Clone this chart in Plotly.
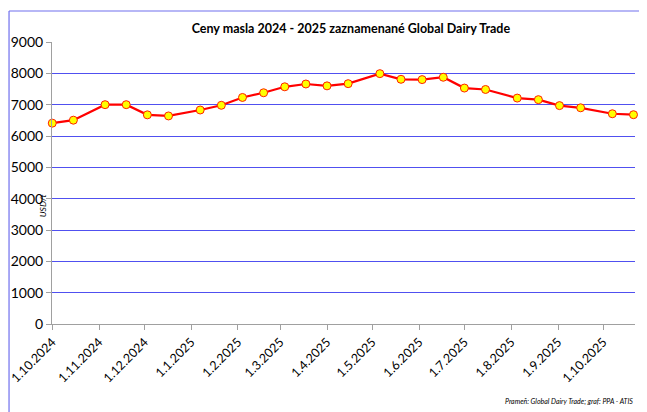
import plotly.graph_objects as go

dates = ["2024-10-01", "2024-10-15", "2024-11-05", "2024-11-19", "2024-12-03", "2024-12-17",
         "2025-01-07", "2025-01-21", "2025-02-04", "2025-02-18", "2025-03-04", "2025-03-18",
         "2025-04-01", "2025-04-15", "2025-05-06", "2025-05-20", "2025-06-03", "2025-06-17",
         "2025-07-01", "2025-07-15", "2025-08-05", "2025-08-19", "2025-09-02", "2025-09-16",
         "2025-10-07", "2025-10-21"]
prices = [6410, 6505, 7000, 7000, 6675, 6640, 6830, 6980, 7230, 7380, 7570, 7660, 7600,
          7670, 7990, 7810, 7800, 7875, 7530, 7485, 7210, 7160, 6970, 6900, 6710, 6680]

tick_vals = ["2024-10-01", "2024-11-01", "2024-12-01", "2025-01-01", "2025-02-01", "2025-03-01",
             "2025-04-01", "2025-05-01", "2025-06-01", "2025-07-01", "2025-08-01", "2025-09-01",
             "2025-10-01"]
tick_text = ["1.10.2024", "1.11.2024", "1.12.2024", "1.1.2025", "1.2.2025", "1.3.2025",
             "1.4.2025", "1.5.2025", "1.6.2025", "1.7.2025", "1.8.2025", "1.9.2025", "1.10.2025"]

title = "Ceny masla 2024 - 2025 zaznamenané Global Dairy Trade"
y_title = "USD/t"
source = "Prameň: Global Dairy Trade; graf: PPA - ATIS"

FONT = "Lato, sans-serif"

fig = go.Figure()
fig.add_trace(go.Scatter(
    x=dates, y=prices, mode="lines+markers",
    line=dict(color="#ff0000", width=2.2),
    marker=dict(symbol="circle", size=8, color="#ffff00", line=dict(color="#ff2000", width=1)),
    showlegend=False, hoverinfo="x+y", cliponaxis=False,
))

fig.update_layout(
    width=647, height=412,
    margin=dict(l=44, r=20, t=34, b=96, autoexpand=False),
    paper_bgcolor="white", plot_bgcolor="white",
    font=dict(family=FONT, size=13, color="#000000"),
    title=dict(text="<b>" + title + "</b>", x=0.53, xanchor="center", y=0.95, yanchor="middle",
               font=dict(family=FONT, size=12.5, color="#000000")),
    xaxis=dict(
        type="date", range=["2024-09-30 20:00", "2025-10-22"], automargin=False,
        tickvals=tick_vals, ticktext=tick_text, tickangle=-45, ticklabeloverflow="allow",
        ticks="outside", ticklen=5, tickcolor="#a0a0a0", tickwidth=1,
        showline=True, linecolor="#a0a0a0", linewidth=1,
        showgrid=False, zeroline=False,
        tickfont=dict(family=FONT, size=12.5, color="#000000"),
    ),
    yaxis=dict(
        range=[0, 9000], tickvals=list(range(0, 9001, 1000)), automargin=False,
        ticks="outside", ticklen=5, tickcolor="#a0a0a0",
        showline=True, linecolor="#a0a0a0", linewidth=1,
        showgrid=True, gridcolor="#5050f0", gridwidth=1,
        zeroline=False,
        tickfont=dict(family=FONT, size=14, color="#000000"),
    ),
    shapes=[
        dict(type="line", xref="paper", yref="paper", x0=-0.0737, x1=1.1, y0=1.11, y1=1.11,
             line=dict(color="#7070ee", width=1.2)),
        dict(type="line", xref="paper", yref="paper", x0=-0.0737, x1=-0.0737, y0=1.11, y1=-0.4,
             line=dict(color="#7070ee", width=1.2)),
    ],
    annotations=[
        dict(text="<i>" + y_title + "</i>", xref="paper", yref="paper", x=-0.004, y=0.42,
             xanchor="right", yanchor="middle", textangle=-90, showarrow=False,
             font=dict(family=FONT, size=8.5, color="#000000")),
        dict(text="<i>" + source + "</i>", xref="paper", yref="paper", x=1.0, y=-0.275,
             xanchor="right", yanchor="middle", showarrow=False,
             font=dict(family=FONT, size=7, color="#000000")),
    ],
)

fig.write_html("out.html")
